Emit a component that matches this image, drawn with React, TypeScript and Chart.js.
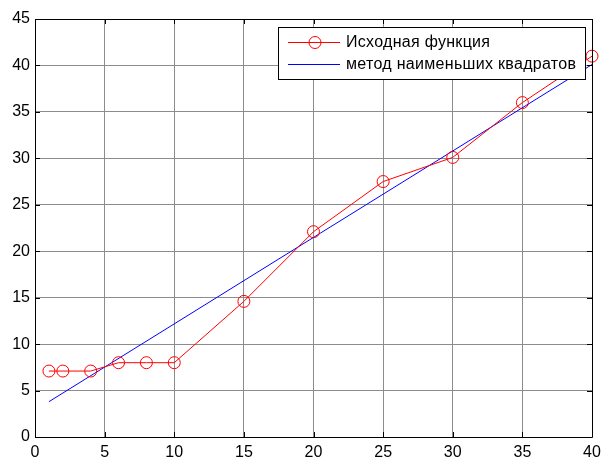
import React, { useEffect, useRef } from "react";
import { Chart, registerables } from "chart.js";

Chart.register(...registerables);

const sourceX = [1, 2, 4, 6, 8, 10, 15, 20, 25, 30, 35, 40];
const sourceY = [7.1, 7.1, 7.1, 8.0, 8.0, 8.0, 14.6, 22.1, 27.5, 30.1, 36.0, 41.0];
const fitX = [1, 40];
const fitY = [3.8, 40.1];
const legendLabels = ["Исходная функция", "метод наименьших квадратов"];
const xTicks = [0, 5, 10, 15, 20, 25, 30, 35, 40];
const yTicks = [0, 5, 10, 15, 20, 25, 30, 35, 40, 45];

const FONT = "'Liberation Sans', Arial, sans-serif";

const framePlugin = {
  id: "framePlugin",
  beforeDraw(chart: any) {
    const ctx = chart.ctx;
    ctx.save();
    ctx.fillStyle = "#ffffff";
    ctx.fillRect(0, 0, chart.width, chart.height);
    ctx.restore();
  },
  afterDraw(chart: any) {
    const ctx = chart.ctx;
    const { left, right, top, bottom } = chart.chartArea;
    const xs = chart.scales.x;
    const ys = chart.scales.y;
    ctx.save();
    ctx.strokeStyle = "#000";
    ctx.lineWidth = 1;
    ctx.beginPath();
    ctx.rect(Math.round(left) + 0.5, Math.round(top) + 0.5, Math.round(right - left), Math.round(bottom - top));
    ctx.stroke();
    // inward ticks
    ctx.beginPath();
    xTicks.forEach((v) => {
      const px = Math.round(xs.getPixelForValue(v)) + 0.5;
      ctx.moveTo(px, bottom);
      ctx.lineTo(px, bottom - 5);
      ctx.moveTo(px, top);
      ctx.lineTo(px, top + 5);
    });
    yTicks.forEach((v) => {
      const py = Math.round(ys.getPixelForValue(v)) + 0.5;
      ctx.moveTo(left, py);
      ctx.lineTo(left + 5, py);
      ctx.moveTo(right, py);
      ctx.lineTo(right - 5, py);
    });
    ctx.stroke();

    // legend
    const bx = 278.5, by = 27.5, bw = 307, bh = 52;
    ctx.fillStyle = "#fff";
    ctx.fillRect(bx, by, bw, bh);
    ctx.strokeStyle = "#000";
    ctx.strokeRect(bx, by, bw, bh);
    const rows = [
      { y: 42.5, color: "#ff0000", marker: true, label: legendLabels[0], target: 144 },
      { y: 64.5, color: "#0000ff", marker: false, label: legendLabels[1], target: 230 },
    ];
    rows.forEach((r) => {
      ctx.strokeStyle = r.color;
      ctx.beginPath();
      ctx.moveTo(288, r.y);
      ctx.lineTo(340, r.y);
      ctx.stroke();
      if (r.marker) {
        ctx.beginPath();
        ctx.arc(315, r.y, 6, 0, Math.PI * 2);
        ctx.stroke();
      }
      ctx.fillStyle = "#000";
      ctx.font = `16px ${FONT}`;
      ctx.letterSpacing = "0px";
      const w = ctx.measureText(r.label).width;
      const sp = (r.target - w) / (r.label.length - 1);
      ctx.letterSpacing = `${sp}px`;
      ctx.textBaseline = "middle";
      ctx.textAlign = "left";
      ctx.fillText(r.label, 346, r.y + 0.5);
      ctx.letterSpacing = "0px";
    });
    ctx.restore();
  },
};

export default function App() {
  const ref = useRef<HTMLCanvasElement | null>(null);
  useEffect(() => {
    if (!ref.current) return;
    const chart = new Chart(ref.current, {
      type: "line",
      data: {
        datasets: [
          {
            label: legendLabels[0],
            data: sourceX.map((x, i) => ({ x, y: sourceY[i] })),
            borderColor: "#ff0000",
            borderWidth: 1,
            pointStyle: "circle",
            pointRadius: 6,
            pointBorderColor: "#ff0000",
            pointBackgroundColor: "rgba(0,0,0,0)",
            pointBorderWidth: 1,
            fill: false,
            tension: 0,
            clip: false as any,
          },
          {
            label: legendLabels[1],
            data: fitX.map((x, i) => ({ x, y: fitY[i] })),
            borderColor: "#0000ff",
            borderWidth: 1,
            pointRadius: 0,
            fill: false,
            tension: 0,
          },
        ],
      },
      options: {
        responsive: false,
        animation: false,
        layout: { padding: { left: 0, top: 19, right: 10, bottom: 0 } },
        plugins: {
          legend: { display: false },
          tooltip: { enabled: false },
        },
        scales: {
          x: {
            type: "linear",
            min: 0,
            max: 40,
            afterFit: (s: any) => {
              s.height = 20;
              s.paddingLeft = 0;
              s.paddingRight = 0;
            },
            afterBuildTicks: (s: any) => {
              s.ticks = xTicks.map((v) => ({ value: v }));
            },
            ticks: {
              color: "#000",
              font: { family: FONT, size: 16 },
              padding: 6,
              maxRotation: 0,
            },
            grid: { color: "#8c8c8c", drawTicks: false, lineWidth: 1 },
            border: { display: false },
          },
          y: {
            type: "linear",
            min: 0,
            max: 45,
            afterFit: (s: any) => {
              s.width = 35;
              s.paddingTop = 0;
              s.paddingBottom = 0;
            },
            afterBuildTicks: (s: any) => {
              s.ticks = yTicks.map((v) => ({ value: v }));
            },
            ticks: {
              color: "#000",
              font: { family: FONT, size: 16 },
              padding: 5,
            },
            grid: { color: "#8c8c8c", drawTicks: false, lineWidth: 1 },
            border: { display: false },
          },
        },
      },
      plugins: [framePlugin],
    });
    return () => chart.destroy();
  }, []);
  return (
    <div style={{ position: "fixed", left: 0, top: 0, width: 602, height: 457, background: "#fff" }}>
      <canvas ref={ref} width={602} height={457} style={{ display: "block" }} />
    </div>
  );
}
